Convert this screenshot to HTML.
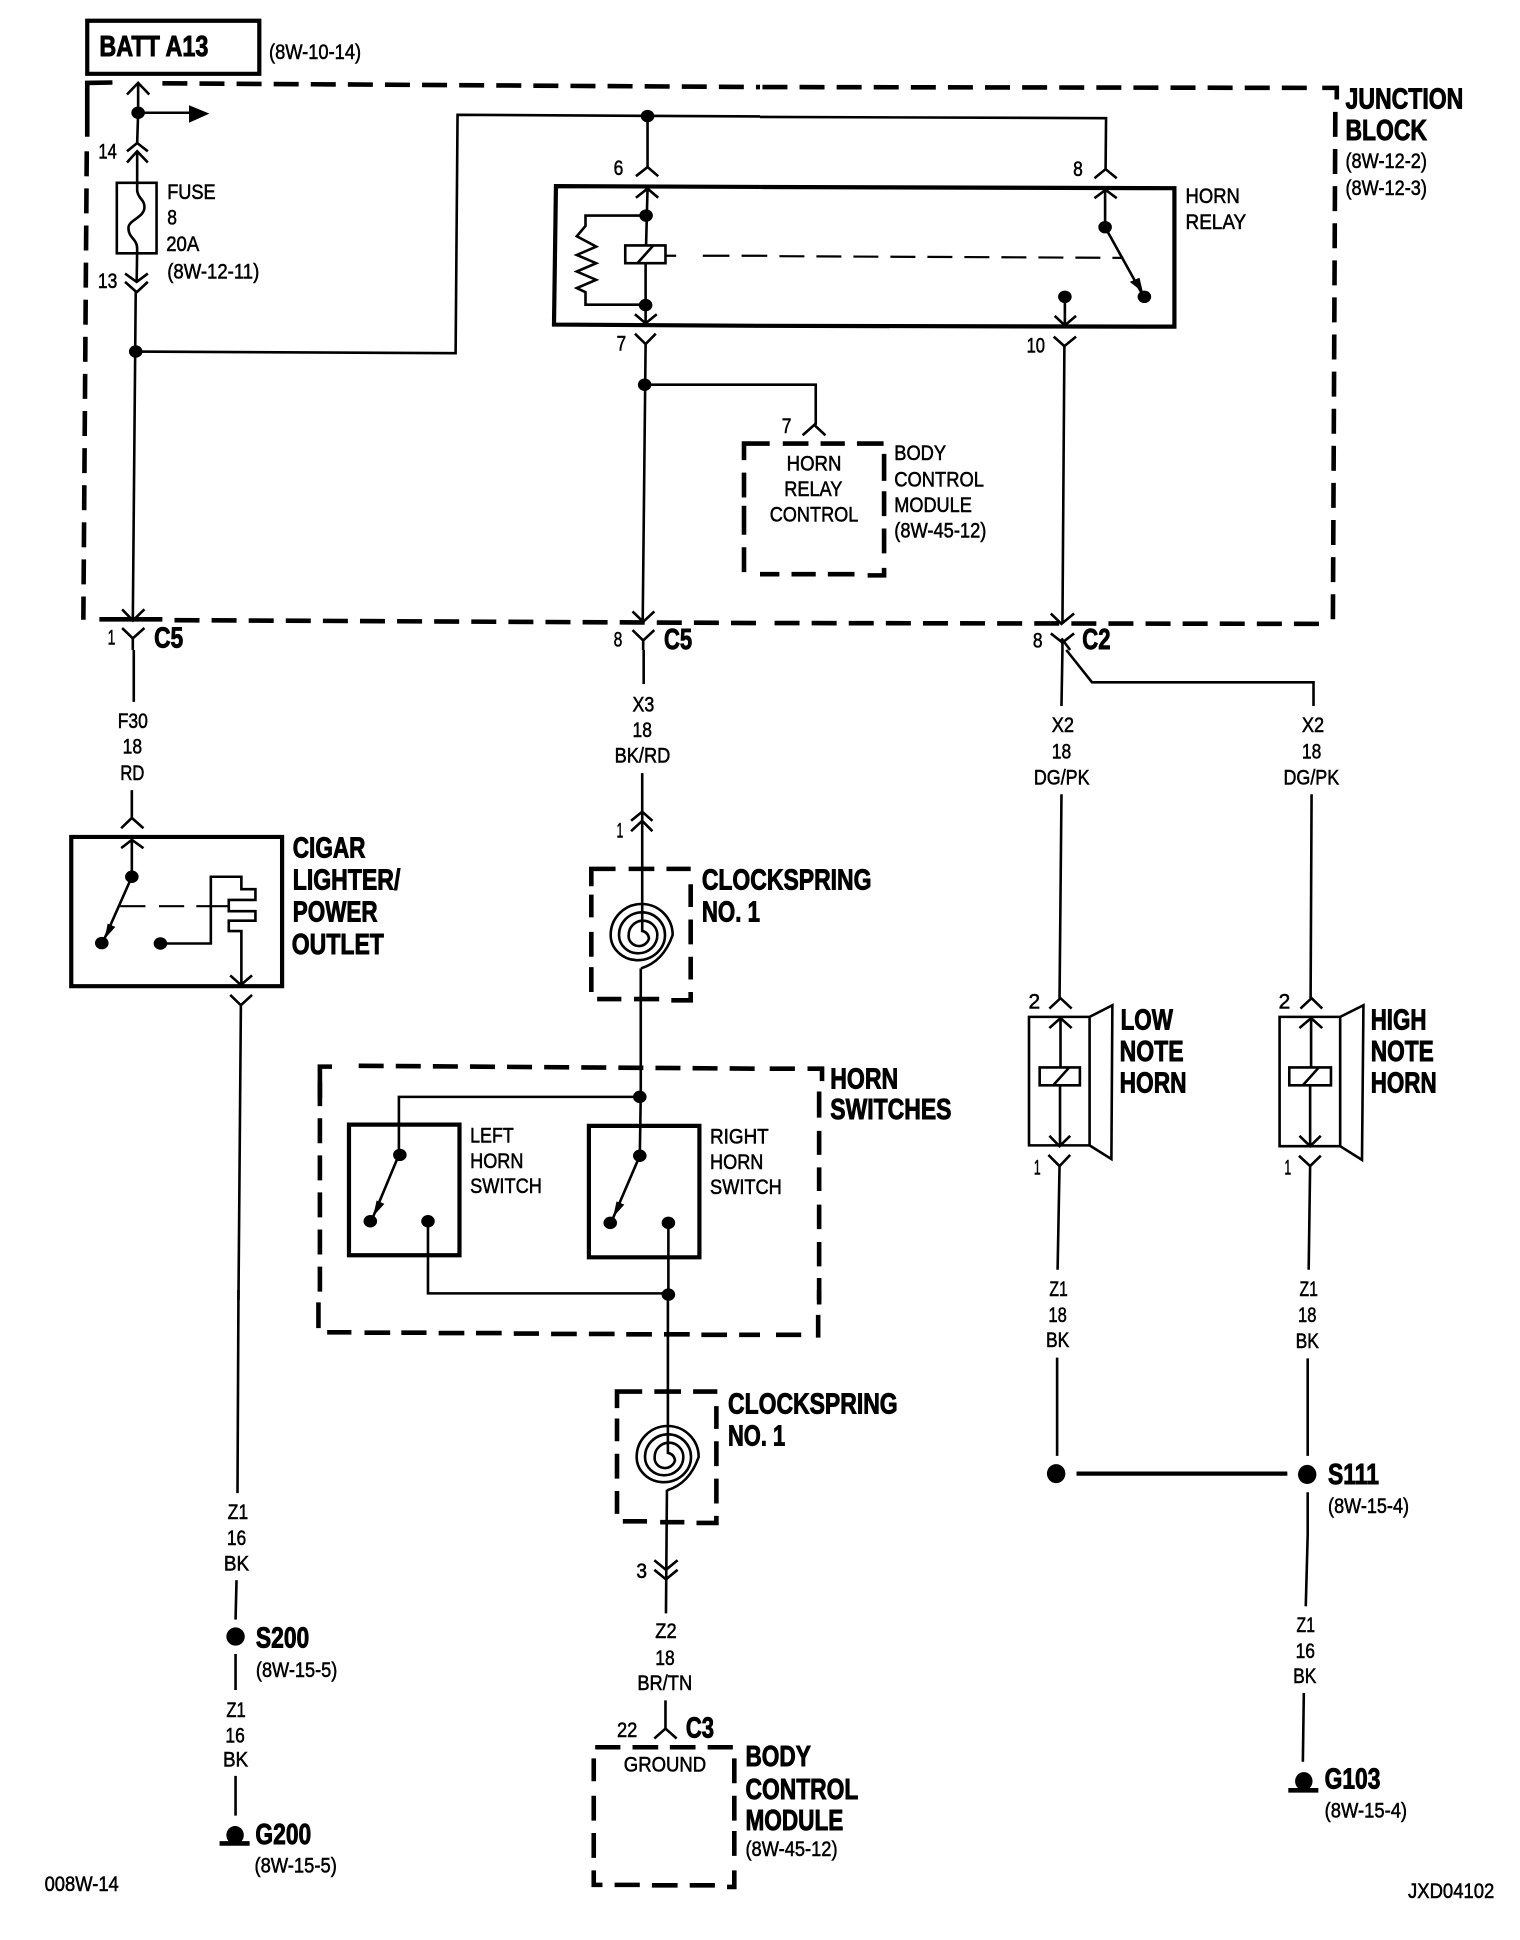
<!DOCTYPE html>
<html><head><meta charset="utf-8"><style>
html,body{margin:0;padding:0;background:#fff}
svg{display:block}
path,rect,ellipse,polygon,text{vector-effect:non-scaling-stroke}
path,rect{fill:none;stroke:#000;stroke-width:2.6}
.t{stroke-width:4.2}
.s{stroke-width:4.6}
.d{stroke-width:4.6;stroke-dasharray:25 12.1}
.e{stroke-width:2.2;stroke-dasharray:25 12}
ellipse,polygon{fill:#000;stroke:none}
text{font-family:"Liberation Sans",sans-serif;fill:#000;stroke:#000;stroke-width:.6}
.r{font-size:52px}
.b{font-size:70px;font-weight:bold;stroke-width:1}
</style></head><body>
<svg xmlns="http://www.w3.org/2000/svg" width="1520" height="1940" viewBox="0 0 1520 1940">
<rect x="0" y="0" width="1520" height="1940" style="fill:#fff;stroke:none"/>

<!-- Tile A -->
<g transform="translate(0 0) scale(.48469 .41454)">
<rect class="t" x="180" y="50" width="355" height="128"/>
<text class="b" x="205" y="135" textLength="225" lengthAdjust="spacingAndGlyphs">BATT A13</text>
<text class="r" x="555" y="142" textLength="190" lengthAdjust="spacingAndGlyphs">(8W-10-14)</text>
<path class="s" d="M180,330 L180,200 L232,199"/>
<path class="d" d="M335,201 L1568,210"/>
<path class="d" d="M179,365 L172,1495"/>
<path class="s" d="M205,1494 H335"/>
<path class="d" d="M360,1496 L1568,1503"/>
<path d="M262,228 L285,200 L308,228 M285,200 L285,272 L283,345 M285,272 H395"/>
<ellipse cx="285" cy="272" rx="14" ry="15"/>
<polygon points="390,254 432,274 390,296"/>
<path d="M262,365 L283,345 L305,365 M262,392 L283,365 L305,392"/>
<text class="r" x="203" y="382" textLength="38" lengthAdjust="spacingAndGlyphs">14</text>
<rect x="241" y="441" width="82" height="170"/>
<path d="M283,365 L283,460 C285,480 298,480 298,500 C298,525 265,530 265,550 C265,575 283,575 283,600 L282,680"/>
<text class="r" x="345" y="480" textLength="100" lengthAdjust="spacingAndGlyphs">FUSE</text>
<text class="r" x="345" y="542" textLength="20" lengthAdjust="spacingAndGlyphs">8</text>
<text class="r" x="343" y="605" textLength="68" lengthAdjust="spacingAndGlyphs">20A</text>
<text class="r" x="345" y="672" textLength="190" lengthAdjust="spacingAndGlyphs">(8W-12-11)</text>
<text class="r" x="202" y="695" textLength="40" lengthAdjust="spacingAndGlyphs">13</text>
<path d="M258,660 L282,680 L305,660 M258,680 L282,705 L305,680 M280,705 L274,1495"/>
<ellipse cx="280" cy="848" rx="14" ry="15"/>
<path d="M280,848 L940,852 L944,277 L1568,281"/>
<ellipse cx="1336" cy="280" rx="14" ry="15"/>
<path d="M1336,280 V403 M1312,425 L1336,403 L1358,425"/>
<text class="r" x="1266" y="422" textLength="20" lengthAdjust="spacingAndGlyphs">6</text>
<path class="t" d="M1568,451 L1147,449 L1143,783 L1568,786"/>
<path d="M1312,477 L1336,455 L1358,477 M1336,455 L1333,590"/>
<ellipse cx="1333" cy="520" rx="14" ry="15"/>
<rect x="1290" y="592" width="83" height="43"/>
<path d="M1315,635 L1348,592 M1332,635 V780 M1310,758 L1332,780 L1355,758"/>
<ellipse cx="1332" cy="736" rx="14" ry="15"/>
<path d="M1333,520 H1208 V545 L1190,570 L1230,595 L1190,615 L1230,635 L1190,655 L1230,675 L1190,695 L1208,705 V735 H1332"/>
<path style="stroke-width:2.2" d="M1373,617 H1395 M1450,617 H1505 M1530,617 H1568"/>
<text class="r" x="1272" y="845" textLength="20" lengthAdjust="spacingAndGlyphs">7</text>
<path d="M1310,805 L1332,830 L1353,805 M1332,830 L1326,1500"/>
<ellipse cx="1330" cy="928" rx="14" ry="15"/>
<path d="M1330,928 H1568"/>
<path class="s" d="M1568,1070 H1535 V1110 M1535,1140 V1200 M1535,1220 V1290 M1535,1320 V1380"/>
<path d="M252,1470 L274,1497 L298,1470 M252,1515 L274,1540 L298,1515 M274,1540 V1568"/>
<text class="r" x="222" y="1555" textLength="16" lengthAdjust="spacingAndGlyphs">1</text>
<text class="b" x="318" y="1562" textLength="60" lengthAdjust="spacingAndGlyphs">C5</text>
<text class="r" x="1266" y="1560" textLength="18" lengthAdjust="spacingAndGlyphs">8</text>
<path d="M1305,1475 L1327,1500 L1350,1475 M1305,1520 L1327,1545 L1350,1520 M1327,1545 V1568"/>
<text class="b" x="1370" y="1565" textLength="58" lengthAdjust="spacingAndGlyphs">C5</text>
</g>

<!-- Tile B -->
<g transform="translate(760 0) scale(.48469 .41454)">
<path class="d" d="M5,210 L1135,212"/>
<path class="s" d="M1160,212 H1190 V240"/>
<path class="d" d="M1187,270 L1182,1495"/>
<path class="d" d="M30,1503 L1165,1505"/>
<path d="M0,282 L714,285 L713,408 M690,430 L713,408 L736,430"/>
<text class="r" x="646" y="425" textLength="20" lengthAdjust="spacingAndGlyphs">8</text>
<path class="t" d="M0,451 L855,454 L855,788 L0,786"/>
<path d="M690,478 L713,458 L736,478 M712,458 V548 L790,712"/>
<ellipse cx="712" cy="548" rx="14" ry="15"/>
<ellipse cx="793" cy="716" rx="14" ry="15"/>
<polygon points="763,680 783,670 790,705"/>
<path class="e" d="M40,618 L750,622"/>
<path style="stroke-width:2.2" d="M0,617 H15"/>
<ellipse cx="629" cy="716" rx="14" ry="15"/>
<path d="M629,716 V785 M608,762 L629,785 L652,762 M606,812 L628,835 L652,812 M628,835 L624,1505 M600,1480 L622,1505 L648,1480"/>
<text class="r" x="550" y="850" textLength="38" lengthAdjust="spacingAndGlyphs">10</text>
<text class="r" x="563" y="1562" textLength="20" lengthAdjust="spacingAndGlyphs">8</text>
<path d="M600,1528 L624,1550 L648,1528 M624,1550 V1568 M622,1540 L640,1568"/>
<text class="b" x="665" y="1565" textLength="58" lengthAdjust="spacingAndGlyphs">C2</text>
<path d="M0,928 H115 V1025 M88,1050 L112,1025 L135,1050"/>
<text class="r" x="45" y="1045" textLength="20" lengthAdjust="spacingAndGlyphs">7</text>
<path class="s" d="M0,1070 H20 M47,1070 H100 M125,1070 H175 M200,1070 H255 M256,1095 V1160 M256,1185 V1245 M256,1275 V1335 M256,1370 V1388 H222 M195,1385 H140 M115,1385 H65 M40,1385 H0"/>
<text class="r" x="55" y="1135" textLength="113" lengthAdjust="spacingAndGlyphs">HORN</text>
<text class="r" x="50" y="1197" textLength="120" lengthAdjust="spacingAndGlyphs">RELAY</text>
<text class="r" x="20" y="1258" textLength="183" lengthAdjust="spacingAndGlyphs">CONTROL</text>
<text class="r" x="277" y="1110" textLength="107" lengthAdjust="spacingAndGlyphs">BODY</text>
<text class="r" x="277" y="1173" textLength="185" lengthAdjust="spacingAndGlyphs">CONTROL</text>
<text class="r" x="277" y="1235" textLength="160" lengthAdjust="spacingAndGlyphs">MODULE</text>
<text class="r" x="277" y="1297" textLength="190" lengthAdjust="spacingAndGlyphs">(8W-45-12)</text>
<text class="r" x="878" y="490" textLength="112" lengthAdjust="spacingAndGlyphs">HORN</text>
<text class="r" x="878" y="553" textLength="125" lengthAdjust="spacingAndGlyphs">RELAY</text>
<text class="b" x="1208" y="262" textLength="243" lengthAdjust="spacingAndGlyphs">JUNCTION</text>
<text class="b" x="1208" y="338" textLength="168" lengthAdjust="spacingAndGlyphs">BLOCK</text>
<text class="r" x="1208" y="405" textLength="168" lengthAdjust="spacingAndGlyphs">(8W-12-2)</text>
<text class="r" x="1208" y="470" textLength="168" lengthAdjust="spacingAndGlyphs">(8W-12-3)</text>
</g>

<!-- Tile C -->
<g transform="translate(0 650) scale(.48469 .41454)">
<path d="M276,0 V125 M272,338 V405 M250,430 L272,405 L296,430"/>
<text class="r" x="243" y="188" textLength="62" lengthAdjust="spacingAndGlyphs">F30</text>
<text class="r" x="253" y="250" textLength="40" lengthAdjust="spacingAndGlyphs">18</text>
<text class="r" x="248" y="313" textLength="50" lengthAdjust="spacingAndGlyphs">RD</text>
<rect class="t" x="147" y="451" width="435" height="360"/>
<path d="M250,478 L272,458 L296,478 M272,458 V547 L216,695"/>
<ellipse cx="272" cy="547" rx="14" ry="15"/>
<ellipse cx="210" cy="707" rx="14" ry="15"/>
<polygon points="222,660 238,668 216,697"/>
<path d="M248,618 H300 M328,618 H380 M405,618 H470" style="stroke-width:2.2"/>
<ellipse cx="331" cy="708" rx="14" ry="15"/>
<path d="M331,708 H435 V547 H498 V577 H527 V603 H472 V630 H527 V653 H472 V678 H498 V806 M475,785 L497,808 L520,785 M475,832 L497,857 L520,832 M497,857 L492,1568"/>
<text class="b" x="604" y="500" textLength="150" lengthAdjust="spacingAndGlyphs">CIGAR</text>
<text class="b" x="604" y="578" textLength="222" lengthAdjust="spacingAndGlyphs">LIGHTER/</text>
<text class="b" x="604" y="655" textLength="175" lengthAdjust="spacingAndGlyphs">POWER</text>
<text class="b" x="602" y="733" textLength="190" lengthAdjust="spacingAndGlyphs">OUTLET</text>
<path d="M1328,0 V82 M1325,297 V680 M1302,412 L1325,390 L1346,412 M1302,437 L1325,412 L1346,437"/>
<text class="r" x="1305" y="148" textLength="45" lengthAdjust="spacingAndGlyphs">X3</text>
<text class="r" x="1305" y="210" textLength="40" lengthAdjust="spacingAndGlyphs">18</text>
<text class="r" x="1268" y="272" textLength="115" lengthAdjust="spacingAndGlyphs">BK/RD</text>
<text class="r" x="1272" y="452" textLength="14" lengthAdjust="spacingAndGlyphs">1</text>
<path class="s" d="M1220,570 V528 H1270 M1297,528 H1350 M1375,528 H1425 M1425,565 V620 M1425,650 V710 M1425,740 V795 M1425,825 V845 H1385 M1360,842 H1308 M1282,842 H1232 M1220,825 V765 M1220,740 V680 M1220,645 V590"/>
<path d="M1322,768 V1075 L1320,1220 L1262,1378"/>
<ellipse cx="1320" cy="1078" rx="14" ry="15"/>
<ellipse cx="1320" cy="1220" rx="14" ry="15"/>
<ellipse cx="1259" cy="1382" rx="14" ry="15"/>
<ellipse cx="1379" cy="1382" rx="14" ry="15"/>
<polygon points="1272,1330 1288,1338 1265,1368"/>
<path d="M1320,1078 H823 V1218 L767,1375"/>
<ellipse cx="825" cy="1218" rx="14" ry="15"/>
<ellipse cx="764" cy="1378" rx="14" ry="15"/>
<ellipse cx="883" cy="1378" rx="14" ry="15"/>
<polygon points="777,1328 793,1336 770,1366"/>
<path d="M883,1378 V1552 H1378 M1379,1382 V1555"/>
<ellipse cx="1379" cy="1555" rx="14" ry="15"/>
<rect class="t" x="720" y="1145" width="228" height="315"/>
<rect class="t" x="1215" y="1148" width="228" height="317"/>
<path class="s" d="M660,1080 V1005 H685"/>
<path class="d" d="M740,1003 L1568,1010"/>
<path class="d" d="M660,1040 V1568"/>
<text class="r" x="970" y="1188" textLength="90" lengthAdjust="spacingAndGlyphs">LEFT</text>
<text class="r" x="970" y="1250" textLength="110" lengthAdjust="spacingAndGlyphs">HORN</text>
<text class="r" x="970" y="1310" textLength="148" lengthAdjust="spacingAndGlyphs">SWITCH</text>
<text class="r" x="1465" y="1190" textLength="121" lengthAdjust="spacingAndGlyphs">RIGHT</text>
<text class="r" x="1465" y="1252" textLength="110" lengthAdjust="spacingAndGlyphs">HORN</text>
<text class="r" x="1465" y="1312" textLength="148" lengthAdjust="spacingAndGlyphs">SWITCH</text>
<text class="b" x="1448" y="578" textLength="350" lengthAdjust="spacingAndGlyphs">CLOCKSPRING</text>
<text class="b" x="1448" y="655" textLength="120" lengthAdjust="spacingAndGlyphs">NO. 1</text>
</g>

<!-- Spirals -->
<g transform="translate(580 860) scale(.33333)">
<path d="M183,325 Q250,305 278,225 A93,93 0 0 0 92,225 A81,75 0 0 0 255,225 A69,68 0 0 0 117,225 A57.5,55 0 0 0 232,225 A43,43 0 0 0 146,225 A31,30 0 0 0 207,235 Q204,215 183,212"/>
</g>
<g transform="translate(606 1382) scale(.33333)">
<path d="M183,325 Q250,305 278,225 A93,93 0 0 0 92,225 A81,75 0 0 0 255,225 A69,68 0 0 0 117,225 A57.5,55 0 0 0 232,225 A43,43 0 0 0 146,225 A31,30 0 0 0 207,235 Q204,215 183,212"/>
</g>

<!-- Tile D -->
<g transform="translate(760 650) scale(.48469 .41454)">
<path class="s" d="M20,1010 H72 M98,1010 H128 V1040 M122,1065 V1128 M122,1160 V1218 M122,1248 V1305 M122,1338 V1397 M122,1428 V1487 M122,1515 V1568"/>
<text class="b" x="145" y="1058" textLength="140" lengthAdjust="spacingAndGlyphs">HORN</text>
<text class="b" x="145" y="1132" textLength="250" lengthAdjust="spacingAndGlyphs">SWITCHES</text>
<path d="M624,0 L622,135 M632,0 L685,78 H1142 V135"/>
<text class="r" x="602" y="198" textLength="46" lengthAdjust="spacingAndGlyphs">X2</text>
<text class="r" x="602" y="262" textLength="40" lengthAdjust="spacingAndGlyphs">18</text>
<text class="r" x="565" y="325" textLength="115" lengthAdjust="spacingAndGlyphs">DG/PK</text>
<text class="r" x="1118" y="198" textLength="46" lengthAdjust="spacingAndGlyphs">X2</text>
<text class="r" x="1118" y="262" textLength="40" lengthAdjust="spacingAndGlyphs">18</text>
<text class="r" x="1080" y="325" textLength="115" lengthAdjust="spacingAndGlyphs">DG/PK</text>
<path d="M622,348 L618,840 M597,865 L620,840 L643,865 M597,912 L620,888 L643,912 M620,888 V1007"/>
<text class="r" x="554" y="865" textLength="24" lengthAdjust="spacingAndGlyphs">2</text>
<rect x="555" y="885" width="125" height="310"/>
<path d="M680,885 L727,857 L725,1228 L680,1195"/>
<rect x="577" y="1007" width="83" height="43"/>
<path d="M605,1050 L638,1007 M619,1050 V1195 M597,1172 L618,1197 L640,1172 M595,1218 L618,1245 L640,1218 M618,1245 L614,1495"/>
<text class="r" x="565" y="1265" textLength="14" lengthAdjust="spacingAndGlyphs">1</text>
<text class="b" x="744" y="915" textLength="108" lengthAdjust="spacingAndGlyphs">LOW</text>
<text class="b" x="742" y="992" textLength="132" lengthAdjust="spacingAndGlyphs">NOTE</text>
<text class="b" x="742" y="1068" textLength="138" lengthAdjust="spacingAndGlyphs">HORN</text>
<path d="M1138,348 L1136,840 M1115,865 L1138,840 L1160,865 M1113,912 L1137,888 L1160,912 M1137,888 V1007"/>
<text class="r" x="1070" y="865" textLength="24" lengthAdjust="spacingAndGlyphs">2</text>
<rect x="1072" y="885" width="125" height="312"/>
<path d="M1197,885 L1245,857 L1242,1230 L1197,1197"/>
<rect x="1092" y="1007" width="86" height="43"/>
<path d="M1120,1050 L1153,1007 M1135,1050 V1197 M1113,1172 L1135,1197 L1157,1172 M1112,1220 L1135,1245 L1157,1220 M1135,1245 L1132,1495"/>
<text class="r" x="1082" y="1265" textLength="14" lengthAdjust="spacingAndGlyphs">1</text>
<text class="b" x="1260" y="915" textLength="115" lengthAdjust="spacingAndGlyphs">HIGH</text>
<text class="b" x="1260" y="992" textLength="130" lengthAdjust="spacingAndGlyphs">NOTE</text>
<text class="b" x="1260" y="1068" textLength="136" lengthAdjust="spacingAndGlyphs">HORN</text>
<text class="r" x="597" y="1558" textLength="38" lengthAdjust="spacingAndGlyphs">Z1</text>
<text class="r" x="1113" y="1558" textLength="38" lengthAdjust="spacingAndGlyphs">Z1</text>
</g>

<!-- Tile E -->
<g transform="translate(0 1290) scale(.48469 .41454)">
<path d="M492,0 L490,490 M488,700 L486,795 M486,878 V965 M486,1172 V1268"/>
<text class="r" x="470" y="552" textLength="42" lengthAdjust="spacingAndGlyphs">Z1</text>
<text class="r" x="468" y="615" textLength="40" lengthAdjust="spacingAndGlyphs">16</text>
<text class="r" x="462" y="677" textLength="52" lengthAdjust="spacingAndGlyphs">BK</text>
<ellipse cx="486" cy="836" rx="19" ry="22"/>
<text class="b" x="528" y="862" textLength="110" lengthAdjust="spacingAndGlyphs">S200</text>
<text class="r" x="528" y="933" textLength="168" lengthAdjust="spacingAndGlyphs">(8W-15-5)</text>
<text class="r" x="467" y="1030" textLength="40" lengthAdjust="spacingAndGlyphs">Z1</text>
<text class="r" x="465" y="1092" textLength="40" lengthAdjust="spacingAndGlyphs">16</text>
<text class="r" x="460" y="1150" textLength="52" lengthAdjust="spacingAndGlyphs">BK</text>
<ellipse cx="485" cy="1315" rx="18" ry="22"/>
<path class="s" d="M453,1335 H515"/>
<text class="b" x="527" y="1336" textLength="115" lengthAdjust="spacingAndGlyphs">G200</text>
<text class="r" x="525" y="1405" textLength="170" lengthAdjust="spacingAndGlyphs">(8W-15-5)</text>
<text class="r" x="92" y="1450" textLength="153" lengthAdjust="spacingAndGlyphs">008W-14</text>
<path class="s" d="M657,30 V92 M675,102 H725 M752,103 H805 M828,103 H880 M905,104 H958 M982,104 H1035 M1060,105 H1112 M1137,106 H1190 M1215,106 H1268 M1292,107 H1345 M1370,107 H1423 M1447,108 H1500 M1525,108 H1568"/>
<path d="M1378,24 V395 M1376,482 L1374,780 M1350,652 L1374,675 L1398,652 M1350,675 L1374,698 L1398,675"/>
<path class="s" d="M1273,285 V245 H1325 M1350,245 H1405 M1430,245 H1480 M1478,280 V335 M1478,365 V425 M1478,455 V515 M1478,545 V562 H1437 M1412,560 H1362 M1335,558 H1285 M1273,540 V485 M1273,455 V395 M1273,365 V310"/>
<text class="r" x="1313" y="695" textLength="22" lengthAdjust="spacingAndGlyphs">3</text>
<text class="r" x="1352" y="840" textLength="44" lengthAdjust="spacingAndGlyphs">Z2</text>
<text class="r" x="1352" y="905" textLength="40" lengthAdjust="spacingAndGlyphs">18</text>
<text class="r" x="1315" y="965" textLength="113" lengthAdjust="spacingAndGlyphs">BR/TN</text>
<path d="M1373,990 V1058 M1350,1082 L1373,1058 L1396,1082"/>
<text class="r" x="1273" y="1078" textLength="42" lengthAdjust="spacingAndGlyphs">22</text>
<text class="b" x="1415" y="1080" textLength="58" lengthAdjust="spacingAndGlyphs">C3</text>
<path class="s" d="M1228,1103 H1280 M1305,1103 H1358 M1382,1103 H1435 M1460,1103 H1512 M1515,1130 V1190 M1515,1220 V1280 M1515,1305 V1365 M1515,1400 V1440 H1500 M1475,1436 H1423 M1398,1436 H1345 M1320,1435 H1268 M1243,1435 H1225 V1400 M1225,1370 V1310 M1225,1280 V1220 M1225,1185 V1130"/>
<text class="r" x="1287" y="1162" textLength="170" lengthAdjust="spacingAndGlyphs">GROUND</text>
<text class="b" x="1502" y="298" textLength="350" lengthAdjust="spacingAndGlyphs">CLOCKSPRING</text>
<text class="b" x="1502" y="375" textLength="118" lengthAdjust="spacingAndGlyphs">NO. 1</text>
<text class="b" x="1538" y="1148" textLength="135" lengthAdjust="spacingAndGlyphs">BODY</text>
<text class="b" x="1538" y="1228" textLength="233" lengthAdjust="spacingAndGlyphs">CONTROL</text>
<text class="b" x="1538" y="1303" textLength="202" lengthAdjust="spacingAndGlyphs">MODULE</text>
<text class="r" x="1538" y="1365" textLength="190" lengthAdjust="spacingAndGlyphs">(8W-45-12)</text>
</g>

<!-- Tile F -->
<g transform="translate(760 1290) scale(.48469 .41454)">
<path class="s" d="M122,0 V35 M120,60 V115 M33,108 H85"/>
<text class="r" x="595" y="77" textLength="38" lengthAdjust="spacingAndGlyphs">18</text>
<text class="r" x="590" y="138" textLength="48" lengthAdjust="spacingAndGlyphs">BK</text>
<text class="r" x="1110" y="77" textLength="38" lengthAdjust="spacingAndGlyphs">18</text>
<text class="r" x="1105" y="140" textLength="48" lengthAdjust="spacingAndGlyphs">BK</text>
<path d="M613,163 V400 M1130,165 V400 M1130,488 V590 L1126,763 M1122,972 L1120,1138"/>
<ellipse cx="611" cy="443" rx="19" ry="23"/>
<ellipse cx="1129" cy="445" rx="19" ry="23"/>
<path class="t" d="M653,443 H1088"/>
<text class="b" x="1172" y="468" textLength="105" lengthAdjust="spacingAndGlyphs">S111</text>
<text class="r" x="1172" y="538" textLength="167" lengthAdjust="spacingAndGlyphs">(8W-15-4)</text>
<text class="r" x="1107" y="825" textLength="38" lengthAdjust="spacingAndGlyphs">Z1</text>
<text class="r" x="1105" y="888" textLength="40" lengthAdjust="spacingAndGlyphs">16</text>
<text class="r" x="1100" y="948" textLength="48" lengthAdjust="spacingAndGlyphs">BK</text>
<ellipse cx="1122" cy="1185" rx="18" ry="22"/>
<path class="s" d="M1090,1207 H1152"/>
<text class="b" x="1165" y="1203" textLength="115" lengthAdjust="spacingAndGlyphs">G103</text>
<text class="r" x="1165" y="1272" textLength="170" lengthAdjust="spacingAndGlyphs">(8W-15-4)</text>
<text class="r" x="1337" y="1467" textLength="178" lengthAdjust="spacingAndGlyphs">JXD04102</text>
</g>
</svg>
</body></html>
